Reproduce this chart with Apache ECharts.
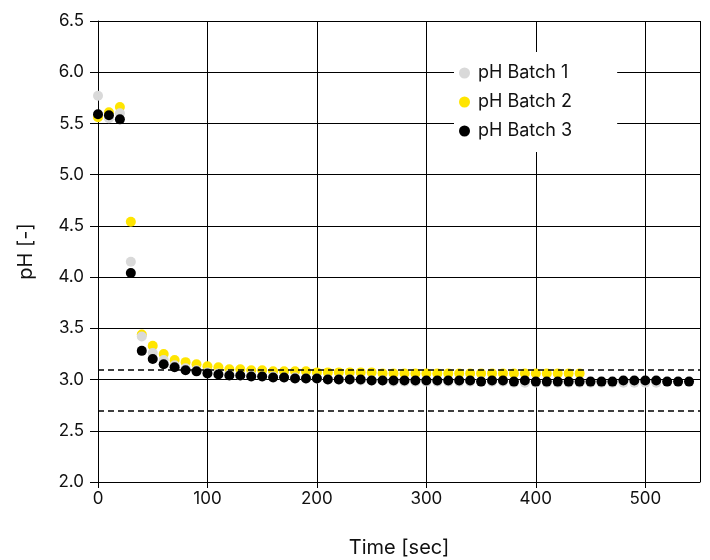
<!DOCTYPE html>
<html>
<head>
<meta charset="utf-8">
<script src="https://cdn.jsdelivr.net/npm/echarts@6/dist/echarts.min.js"></script>
<style>html,body{margin:0;padding:0;background:#fff}#c{width:710px;height:560px}</style>
</head>
<body>
<div id="c"></div>
<script>
// time step of measurements [sec]
const timeStep = 10;
const batch1 = [5.77,5.55,5.60,4.15,3.42,3.26,3.19,3.14,3.11,3.09,3.07,3.06,3.05,3.04,3.04,3.03,3.03,3.02,3.02,3.01,3.01,3.00,3.00,3.00,2.99,2.99,2.99,2.98,2.98,2.98,2.98,2.98,2.98,2.98,2.98,2.98,2.98,2.98,2.97,2.97,2.97,2.97,2.97,2.97,2.97,2.97,2.97,2.97,2.97,2.97,2.97,2.97];
const batch2 = [5.56,5.61,5.66,4.54,3.44,3.33,3.25,3.19,3.17,3.15,3.13,3.12,3.10,3.10,3.09,3.09,3.08,3.08,3.08,3.08,3.07,3.07,3.07,3.07,3.07,3.07,3.06,3.06,3.06,3.06,3.06,3.06,3.06,3.06,3.06,3.06,3.06,3.06,3.06,3.06,3.06,3.06,3.06,3.06,3.06];
const batch3 = [5.59,5.58,5.54,4.04,3.28,3.20,3.15,3.12,3.09,3.08,3.06,3.05,3.04,3.04,3.03,3.03,3.02,3.02,3.01,3.01,3.01,3.00,3.00,3.00,3.00,2.99,2.99,2.99,2.99,2.99,2.99,2.99,2.99,2.99,2.99,2.98,2.99,2.99,2.98,2.99,2.98,2.98,2.98,2.98,2.98,2.98,2.98,2.98,2.99,2.99,2.99,2.99,2.98,2.98,2.98];
const seriesNames = ['pH Batch 1','pH Batch 2','pH Batch 3'];
const thresholds = [3.1, 2.7];
const xTicks = [0,100,200,300,400,500];
const yTicks = [2.0,2.5,3.0,3.5,4.0,4.5,5.0,5.5,6.0,6.5];

const toPts = arr => arr.map((v,i)=>[i*timeStep, v]);
const font = 'Inter, "Noto Sans", sans-serif';

const chart = echarts.init(document.getElementById('c'), null, {renderer:'canvas'});
const sc = (name, data, color) => ({
  name, type:'scatter', data:toPts(data), symbol:'circle', symbolSize:10,
  itemStyle:{color, opacity:1}, emphasis:{disabled:true}
});
chart.setOption({
  animation:false,
  textStyle:{fontFamily:font},
  grid:{left:98, right:10, top:21, bottom:78, containLabel:false, outerBoundsMode:'none'},
  legend:{
    data:seriesNames, orient:'vertical', left:454, top:52,
    backgroundColor:'#fff', padding:[12,45,12,5],
    itemWidth:11, itemHeight:11, itemGap:11,
    icon:'circle',
    textStyle:{fontSize:18, color:'#111', fontFamily:font, padding:[0,0,0,3]}
  },
  xAxis:{
    type:'value', min:0, max:550, interval:100,
    name:'Time [sec]', nameLocation:'middle', nameGap:56,
    nameTextStyle:{fontSize:20, color:'#111', fontFamily:font},
    axisLine:{show:true, lineStyle:{color:'#000', width:1}},
    axisTick:{show:true, length:6, lineStyle:{color:'#000'}},
    axisLabel:{fontSize:17, color:'#111', margin:8, showMaxLabel:false,
      formatter:v=> xTicks.includes(v) ? String(v) : ''},
    splitLine:{show:true, lineStyle:{color:'#000', width:1}}
  },
  yAxis:{
    type:'value', min:2, max:6.5, interval:0.5,
    name:'pH [-]', nameLocation:'middle', nameGap:62,
    nameTextStyle:{fontSize:20, color:'#111', fontFamily:font},
    axisLine:{show:true, lineStyle:{color:'#000', width:1}},
    axisTick:{show:true, length:8, lineStyle:{color:'#000'}},
    axisLabel:{fontSize:17, color:'#111', margin:14,
      formatter:v=> yTicks.some(t=>Math.abs(t-v)<1e-9) ? v.toFixed(1) : ''},
    splitLine:{show:true, lineStyle:{color:'#000', width:1}}
  },
  series:[
    Object.assign(sc(seriesNames[1], batch2, '#ffe500'), {
      markLine:{
        silent:true, symbol:['none','none'], label:{show:false},
        lineStyle:{color:'#000', type:[6,4], width:1.5},
        data: thresholds.map(t=>({yAxis:t}))
      }
    }),
    sc(seriesNames[0], batch1, '#d9d9d9'),
    sc(seriesNames[2], batch3, '#000000')
  ]
});
</script>
</body>
</html>
